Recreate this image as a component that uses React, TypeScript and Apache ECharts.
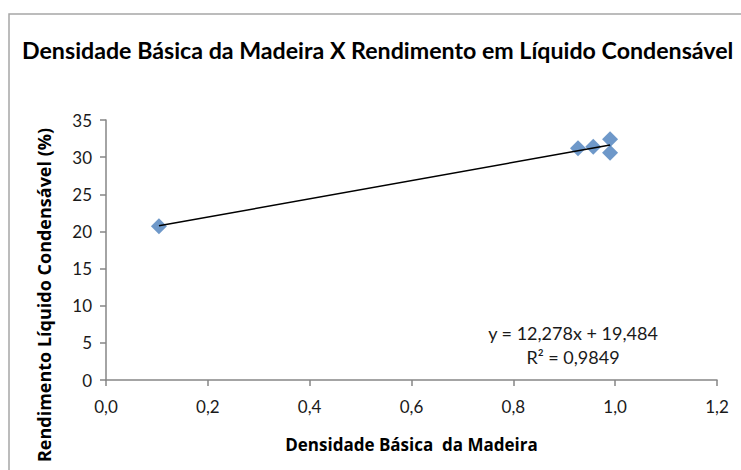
import React, { useEffect, useRef } from "react";
import * as echarts from "echarts";

const titleText = "Densidade Básica da Madeira X Rendimento em Líquido Condensável";
const xAxisTitle = "Densidade Básica  da Madeira";
const yAxisTitle = "Rendimento Líquido Condensável (%)";
const densidade = [0.104, 0.927, 0.957, 0.99, 0.99];
const rendimento = [20.7, 31.2, 31.4, 32.4, 30.6];
const trendX = [0.104, 0.99];
const trendY = [20.76, 31.64];
const equationLines = ["y = 12,278x + 19,484", "R² = 0,9849"];

const FONT = "Lato, 'Open Sans', sans-serif";
const BOLD_FONT = "'Open Sans', Lato, sans-serif";

export default function App() {
  const ref = useRef<HTMLDivElement>(null);
  useEffect(() => {
    if (!ref.current) return;
    const chart = echarts.init(ref.current, null, { renderer: "svg" });
    const fmt = (v: number) => v.toFixed(1).replace(".", ",");
    chart.setOption({
      animation: false,
      backgroundColor: "#ffffff",
      grid: { left: 106, right: 24, top: 120, bottom: 90, containLabel: false },
      xAxis: {
        type: "value",
        min: 0,
        max: 1.2,
        interval: 0.2,
        axisLine: { show: true, lineStyle: { color: "#868686", width: 1.5 } },
        axisTick: { show: true, length: 6, inside: false, lineStyle: { color: "#868686", width: 1.5 } },
        splitLine: { show: false },
        axisLabel: { formatter: fmt, margin: 18, fontSize: 17, color: "#1a1a1a", fontFamily: FONT },
        name: xAxisTitle,
        nameLocation: "middle",
        nameGap: 56,
        nameTextStyle: { fontSize: 17, fontWeight: "bold", color: "#000", fontFamily: BOLD_FONT },
      },
      yAxis: {
        type: "value",
        min: 0,
        max: 35,
        interval: 5,
        axisLine: { show: true, lineStyle: { color: "#868686", width: 1.5 } },
        axisTick: { show: true, length: 6, inside: false, lineStyle: { color: "#868686", width: 1.5 } },
        splitLine: { show: false },
        axisLabel: { margin: 14, fontSize: 17, color: "#1a1a1a", fontFamily: FONT },
      },
      graphic: [
        {
          type: "rect",
          shape: { x: 9, y: 14, width: 800, height: 500 },
          style: { fill: "none", stroke: "#a6a6a6", lineWidth: 1.5 },
          silent: true,
        },
        {
          type: "text",
          x: 22,
          y: 50,
          style: { text: titleText, fontSize: 23.2, fontWeight: "bold", fill: "#000", fontFamily: FONT, verticalAlign: "middle" },
        },
        {
          type: "text",
          x: 44,
          y: 295,
          rotation: Math.PI / 2,
          style: {
            text: yAxisTitle,
            fontSize: 18,
            fontWeight: "bold",
            fill: "#000",
            fontFamily: BOLD_FONT,
            align: "center",
            verticalAlign: "middle",
          },
        },
        {
          type: "text",
          x: 573,
          y: 333,
          style: { text: equationLines[0], fontSize: 18, fill: "#1a1a1a", fontFamily: FONT, align: "center", verticalAlign: "middle" },
        },
        {
          type: "text",
          x: 573,
          y: 357,
          style: { text: equationLines[1], fontSize: 18, fill: "#1a1a1a", fontFamily: FONT, align: "center", verticalAlign: "middle" },
        },
      ],
      series: [
        {
          type: "line",
          data: trendX.map((x, i) => [x, trendY[i]]),
          showSymbol: false,
          symbol: "none",
          lineStyle: { color: "#000", width: 1.5 },
          silent: true,
          z: 3,
        },
        {
          type: "scatter",
          data: densidade.map((x, i) => [x, rendimento[i]]),
          symbol: "diamond",
          symbolSize: 16,
          itemStyle: { color: "#4a7ebb" },
          z: 2,
        },
      ],
    });
    return () => chart.dispose();
  }, []);
  return <div ref={ref} style={{ position: "absolute", left: 0, top: 0, width: 741, height: 470 }} />;
}
